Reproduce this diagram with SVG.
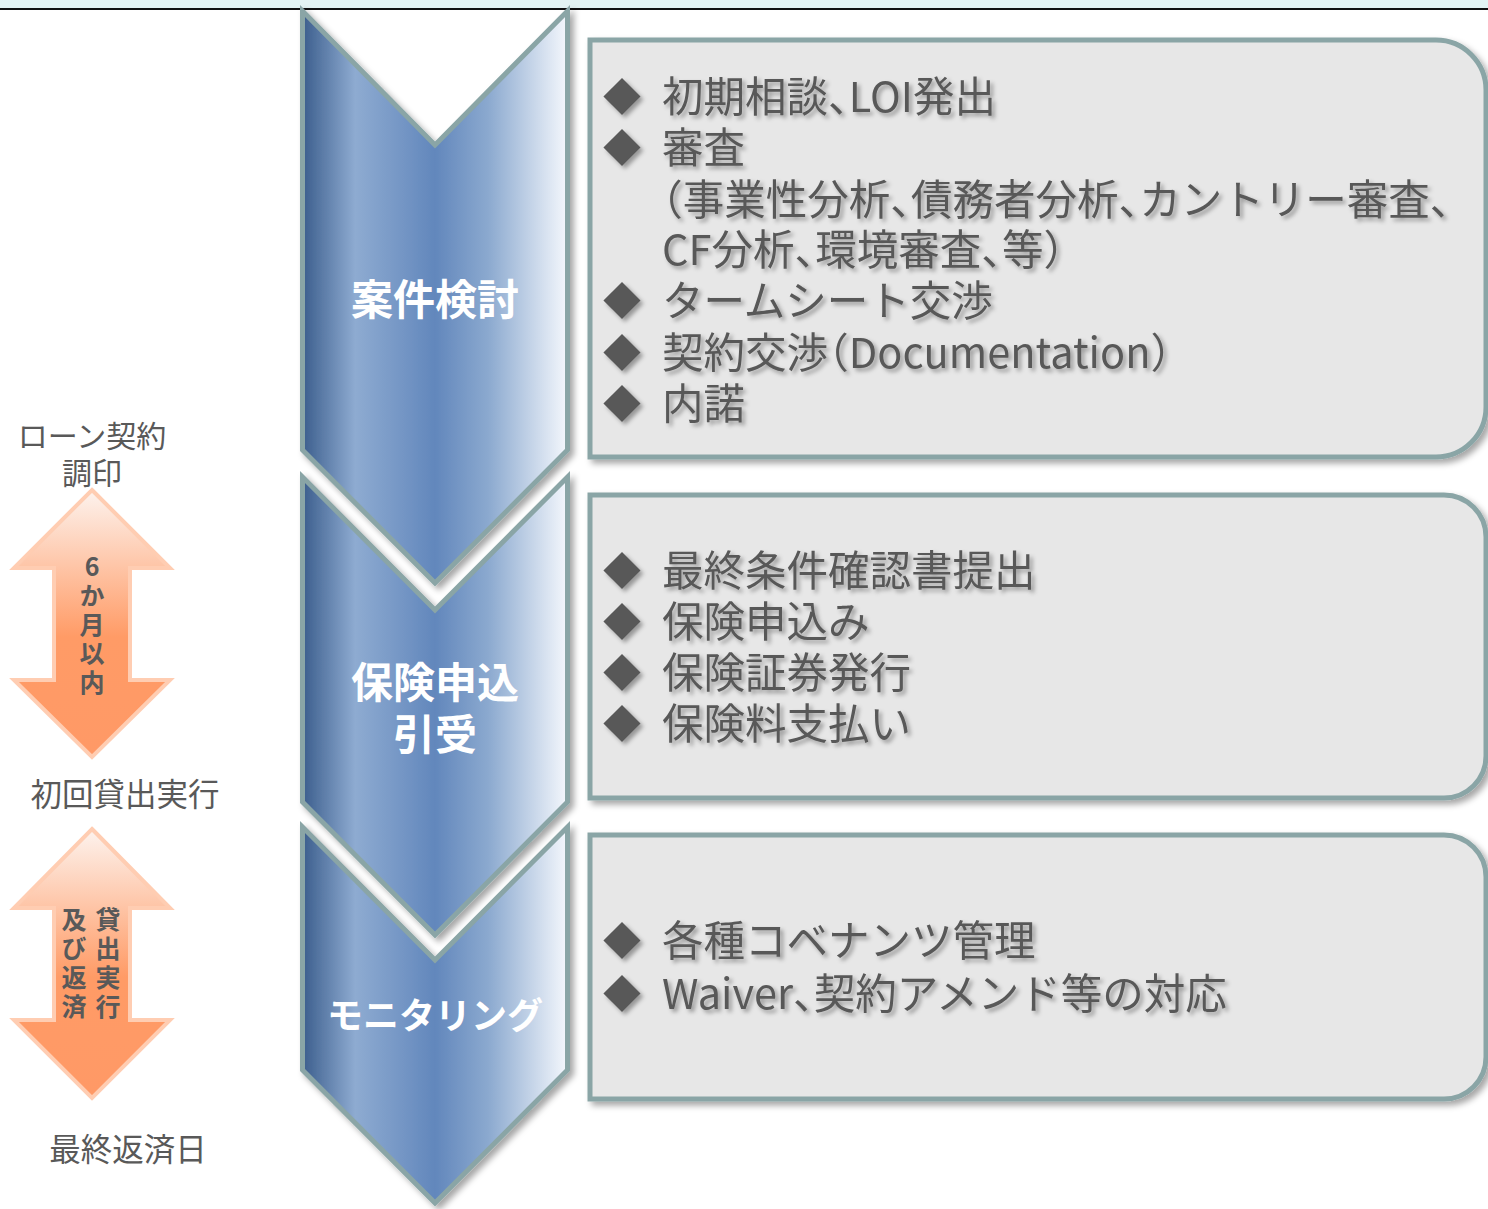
<svg xmlns="http://www.w3.org/2000/svg" width="1488" height="1209" viewBox="0 0 1488 1209">
<defs>
<linearGradient id="chev" x1="302" y1="0" x2="568" y2="0" gradientUnits="userSpaceOnUse">
<stop offset="0" stop-color="#3b5d8c"/>
<stop offset="0.2" stop-color="#8eabd1"/>
<stop offset="0.5" stop-color="#6287bc"/>
<stop offset="0.7" stop-color="#8ba9cf"/>
<stop offset="1" stop-color="#f5f8fd"/>
</linearGradient>
<linearGradient id="arr1" x1="0" y1="490" x2="0" y2="757" gradientUnits="userSpaceOnUse">
<stop offset="0" stop-color="#fdf3ee"/>
<stop offset="0.55" stop-color="#ff9b66"/>
<stop offset="1" stop-color="#ff9966"/>
</linearGradient>
<linearGradient id="arr2" x1="0" y1="829" x2="0" y2="1098" gradientUnits="userSpaceOnUse">
<stop offset="0" stop-color="#fdf3ee"/>
<stop offset="0.55" stop-color="#ff9b66"/>
<stop offset="1" stop-color="#ff9966"/>
</linearGradient>
<filter id="sh" x="-10%" y="-10%" width="130%" height="130%">
<feDropShadow dx="4" dy="4" stdDeviation="3" flood-color="#000" flood-opacity="0.35"/>
</filter>
<filter id="tsh" x="-5%" y="-20%" width="110%" height="150%">
<feDropShadow dx="3" dy="3" stdDeviation="2" flood-color="#000" flood-opacity="0.35"/>
</filter>
<style>
.chev{fill:url(#chev);stroke:#8aa5a6;stroke-width:5;stroke-linejoin:miter;filter:url(#sh)}
.box{fill:#e7e7e7;stroke:#8aa5a6;stroke-width:5;filter:url(#sh)}
.ct{font-family:"Noto Sans CJK JP",sans-serif;font-weight:bold;font-size:42px;fill:#ffffff;text-anchor:middle}
.bt{font-family:"Noto Sans CJK JP",sans-serif;font-size:41.5px;fill:#595959;font-feature-settings:"halt"}
.bl{font-family:"Noto Sans CJK JP",sans-serif;font-size:38px;fill:#595959;text-anchor:middle}
.lt{font-family:"Noto Sans CJK JP",sans-serif;font-size:31.5px;fill:#595959;text-anchor:middle}
.at{font-family:"Noto Sans CJK JP",sans-serif;font-size:25px;font-weight:bold;fill:#595959;writing-mode:vertical-rl;text-orientation:upright;letter-spacing:4px}
.arr{stroke:#ffcdb2;stroke-width:4;stroke-linejoin:miter}
</style>
</defs>
<rect x="0" y="0" width="1488" height="1209" fill="#ffffff"/>
<rect x="0" y="0" width="1488" height="8.5" fill="#e3f3f3"/>
<line x1="0" y1="9" x2="1488" y2="9" stroke="#111" stroke-width="2"/>

<g id="chevron-3">
<polygon class="chev" points="302.5,827 435,960 567.5,827 567.5,1070 435,1203 302.5,1070"/>
<text class="ct" x="435" y="1029" style="font-size:36px">モニタリング</text>
</g>
<g id="chevron-2">
<polygon class="chev" points="302.5,477 435,610 567.5,477 567.5,802 435,935 302.5,802"/>
<text class="ct" x="435" y="698">保険申込</text>
<text class="ct" x="435" y="750">引受</text>
</g>
<g id="chevron-1">
<polygon class="chev" points="302.5,11 435,145 567.5,11 567.5,450 435,583 302.5,450"/>
<text class="ct" x="435" y="315">案件検討</text>
</g>

<g id="box-1">
<path class="box" d="M590,40 H1436 A50,50 0 0 1 1486,90 V407 A50,50 0 0 1 1436,457 H590 Z"/>
<g filter="url(#tsh)">
<text class="bl" x="622" y="111">◆</text>
<text class="bl" x="622" y="162">◆</text>
<text class="bl" x="622" y="315">◆</text>
<text class="bl" x="622" y="367">◆</text>
<text class="bl" x="622" y="418">◆</text>
<text class="bt" x="662" y="112">初期相談、LOI発出</text>
<text class="bt" x="662" y="163">審査</text>
<text class="bt" x="662" y="215">（事業性分析、債務者分析、カントリー審査、</text>
<text class="bt" x="662" y="265">CF分析、環境審査、等）</text>
<text class="bt" x="662" y="316">タームシート交渉</text>
<text class="bt" x="662" y="368">契約交渉（Documentation）</text>
<text class="bt" x="662" y="419">内諾</text>
</g>
</g>

<g id="box-2">
<path class="box" d="M590,495 H1444 A42,42 0 0 1 1486,537 V756 A42,42 0 0 1 1444,798 H590 Z"/>
<g filter="url(#tsh)">
<text class="bl" x="622" y="585">◆</text>
<text class="bl" x="622" y="636">◆</text>
<text class="bl" x="622" y="687">◆</text>
<text class="bl" x="622" y="738">◆</text>
<text class="bt" x="662" y="586">最終条件確認書提出</text>
<text class="bt" x="662" y="637">保険申込み</text>
<text class="bt" x="662" y="688">保険証券発行</text>
<text class="bt" x="662" y="739">保険料支払い</text>
</g>
</g>

<g id="box-3">
<path class="box" d="M590,835 H1444 A42,42 0 0 1 1486,877 V1057 A42,42 0 0 1 1444,1099 H590 Z"/>
<g filter="url(#tsh)">
<text class="bl" x="622" y="955">◆</text>
<text class="bl" x="622" y="1008">◆</text>
<text class="bt" x="662" y="956">各種コベナンツ管理</text>
<text class="bt" x="662" y="1009">Waiver、契約アメンド等の対応</text>
</g>
</g>

<g id="label-signing">
<text class="lt" x="92" y="447" style="font-size:30px">ローン契約</text>
<text class="lt" x="92" y="484" style="font-size:30px">調印</text>
</g>
<g id="arrow-6months">
<path class="arr" fill="url(#arr1)" d="M92,490 L170,568 L130,568 L130,680 L170,680 L92,757 L14,680 L54,680 L54,568 L14,568 Z"/>
<text class="at" x="92" y="554">6か月以内</text>
</g>
<g id="label-first-drawdown">
<text class="lt" x="125" y="806">初回貸出実行</text>
</g>
<g id="arrow-drawdown-repay">
<path class="arr" fill="url(#arr2)" d="M92,829 L170,908 L130,908 L130,1020 L170,1020 L92,1098 L14,1020 L54,1020 L54,908 L14,908 Z"/>
<text class="at" x="108" y="907">貸出実行</text>
<text class="at" x="74" y="907">及び返済</text>
</g>
<g id="label-final">
<text class="lt" x="128" y="1161">最終返済日</text>
</g>
</svg>
